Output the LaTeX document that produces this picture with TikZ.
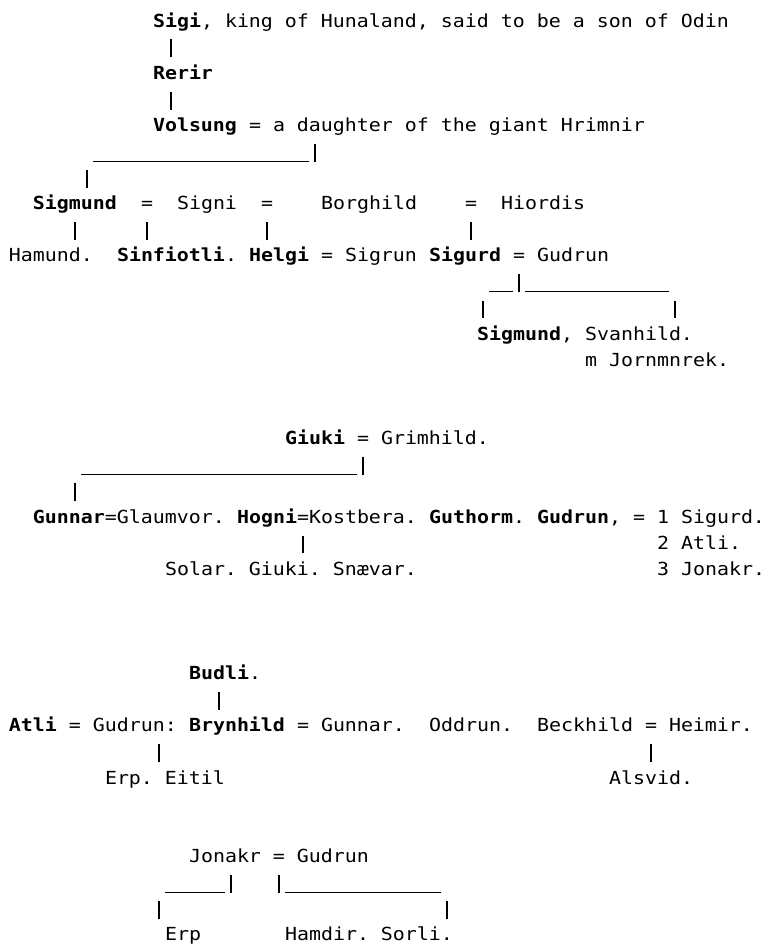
\documentclass[tikz,border=0pt]{standalone}
\usepackage{fontspec}
\newfontfamily\treefont[FakeStretch=1.1073]{DejaVu Sans Mono}
\tikzset{
  who/.style={anchor=base west, inner sep=0pt, outer sep=0pt,
    font={\treefont\fontsize{9pt}{11pt}\selectfont\frenchspacing}},
  bar/.style={line width=0.8pt},
  rule/.style={line width=0.45pt}
}
\begin{document}
\begin{tikzpicture}[x=6pt,y=-13.055pt] % one column, one row
\useasboundingbox (-0.75,-1.034) rectangle (62.833,35.12);
% Volsungs
\node[who] (sigi) at (12,0) {\textbf{Sigi}, king of Hunaland, said to be a son of Odin};
\node[who] (rerir) at (12,2) {\textbf{Rerir}};
\node[who] (volsung) at (12,4) {\textbf{Volsung} = a daughter of the giant Hrimnir};
\node[who] (sigmund) at (2,7) {\textbf{Sigmund}};
\node[who] (signi) at (14,7) {Signi};
\node[who] (borghild) at (26,7) {Borghild};
\node[who] (hiordis) at (41,7) {Hiordis};
\foreach \c in {11,21,38}
  \node[who] (wed\c) at (\c,7) {=};
\node[who] (hamund) at (0,9) {Hamund.};
\node[who] (sinfiotli) at (9,9) {\textbf{Sinfiotli}.};
\node[who] (helgi) at (20,9) {\textbf{Helgi} = Sigrun};
\node[who] (sigurd) at (35,9) {\textbf{Sigurd} = Gudrun};
\node[who] (sigmundjr) at (39,12) {\textbf{Sigmund}, Svanhild.};
\node[who] (jormunrek) at (48,13) {m Jornmnrek.};
% Giukings
\node[who] (giuki) at (23,16) {\textbf{Giuki} = Grimhild.};
\node[who] (gunnar) at (2,19) {\textbf{Gunnar}=Glaumvor.};
\node[who] (hogni) at (19,19) {\textbf{Hogni}=Kostbera.};
\node[who] (guthorm) at (35,19) {\textbf{Guthorm}.};
\node[who] (gudrun) at (44,19) {\textbf{Gudrun}, = 1 Sigurd.};
\node[who] (husatli) at (54,20) {2 Atli.};
\node[who] (solar) at (13,21) {Solar. Giuki. Snævar.};
\node[who] (husjonakr) at (54,21) {3 Jonakr.};
% Budlungs
\node[who] (budli) at (15,25) {\textbf{Budli}.};
\node[who] (atli) at (0,27) {\textbf{Atli} = Gudrun:};
\node[who] (brynhild) at (15,27) {\textbf{Brynhild} = Gunnar.};
\node[who] (oddrun) at (35,27) {Oddrun.};
\node[who] (beckhild) at (44,27) {Beckhild = Heimir.};
\node[who] (erpeitil) at (8,29) {Erp. Eitil};
\node[who] (alsvid) at (50,29) {Alsvid.};
% Jonakr
\node[who] (jonakr) at (15,32) {Jonakr = Gudrun};
\node[who] (erp) at (13,35) {Erp};
\node[who] (hamdir) at (23,35) {Hamdir. Sorli.};
% edit here for the bars
\foreach \c/\r in {13/1,13/3,25/5,6/6,5/8,11/8,21/8,38/8,42/10,39/11,55/11,
    29/17,5/18,24/20,17/26,12/28,53/28,18/33,22/33,12/34,36/34}
  \draw[bar] (\c+0.5,\r+0.163) -- (\c+0.5,\r-0.525);
% edit here for the rules
\foreach \a/\b/\r in {7/24/5,40/41/10,43/54/10,6/28/17,13/17/33,23/35/33}
  \draw[rule] (\a,\r+0.147) -- (\b+1,\r+0.147);
\end{tikzpicture}
\end{document}
